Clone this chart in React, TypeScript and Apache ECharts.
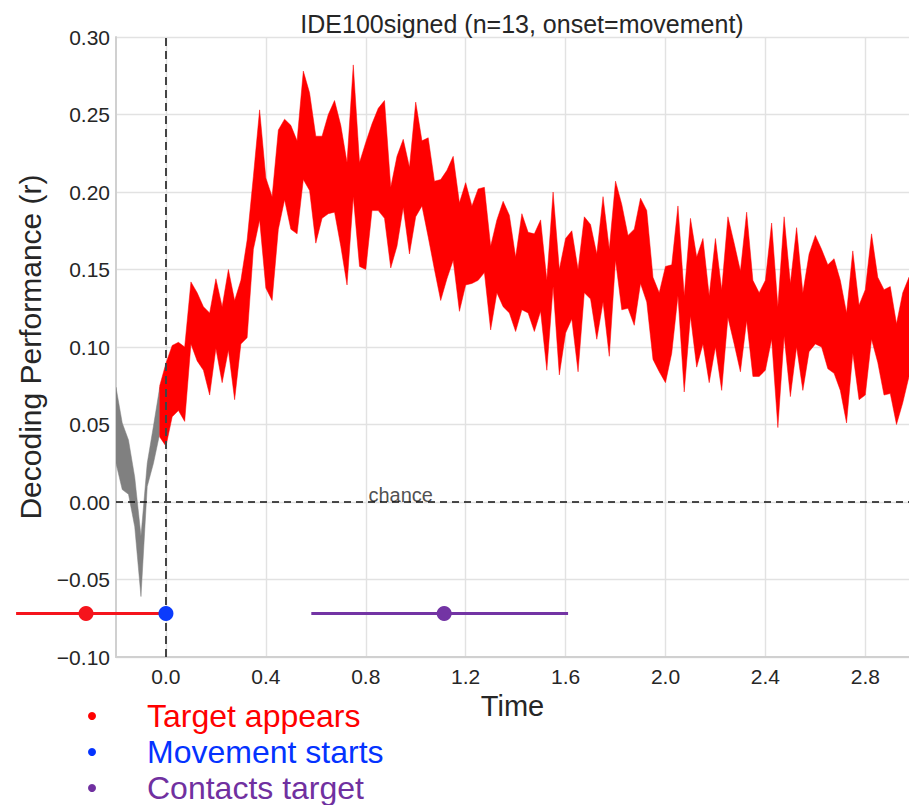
import React, { useEffect, useRef } from "react";
import * as echarts from "echarts";

// Sampling grid of the decoding time course (seconds relative to movement onset)
const SAMPLE_STEP = 0.025;
const GREY_START = -0.2;
const RED_START = -0.025;

// Confidence band before the effect becomes significant
const greyUpper = [0.074, 0.051, 0.04, 0.016, -0.022, 0.025, 0.049, 0.074];
const greyLower = [0.025, 0.008, 0.005, -0.016, -0.061, 0.01, 0.025, 0.044];

// Confidence band while decoding is significant
const redUpper = [
  0.075, 0.0895, 0.101, 0.103, 0.1, 0.142, 0.135, 0.126, 0.122, 0.144,
  0.126, 0.15, 0.13, 0.143, 0.169, 0.21, 0.253, 0.209, 0.197, 0.24,
  0.247, 0.243, 0.233, 0.278, 0.264, 0.236, 0.236, 0.25, 0.259, 0.243,
  0.219, 0.282, 0.219, 0.232, 0.244, 0.254, 0.259, 0.203, 0.223, 0.234,
  0.216, 0.258, 0.233, 0.235, 0.207, 0.208, 0.214, 0.223, 0.193, 0.206,
  0.191, 0.202, 0.203, 0.165, 0.182, 0.194, 0.185, 0.158, 0.186, 0.174,
  0.173, 0.182, 0.143, 0.2, 0.15, 0.17, 0.175, 0.15, 0.184, 0.179,
  0.16, 0.197, 0.163, 0.207, 0.192, 0.172, 0.176, 0.196, 0.188, 0.145,
  0.135, 0.152, 0.153, 0.191, 0.133, 0.183, 0.158, 0.17, 0.133, 0.17,
  0.137, 0.184, 0.167, 0.149, 0.187, 0.143, 0.135, 0.143, 0.18, 0.126,
  0.184, 0.141, 0.177, 0.135, 0.16, 0.172, 0.163, 0.153, 0.157, 0.143,
  0.122, 0.162, 0.127, 0.137, 0.173, 0.145, 0.137, 0.139, 0.115, 0.135,
  0.145,
];
const redLower = [
  0.042, 0.036, 0.055, 0.059, 0.052, 0.102, 0.091, 0.085, 0.069, 0.099,
  0.077, 0.098, 0.066, 0.102, 0.106, 0.163, 0.182, 0.138, 0.13, 0.176,
  0.195, 0.176, 0.173, 0.208, 0.201, 0.167, 0.183, 0.186, 0.187, 0.165,
  0.14, 0.197, 0.152, 0.15, 0.188, 0.188, 0.183, 0.151, 0.165, 0.19,
  0.16, 0.184, 0.191, 0.171, 0.15, 0.13, 0.144, 0.156, 0.123, 0.14,
  0.141, 0.143, 0.148, 0.111, 0.135, 0.126, 0.122, 0.11, 0.124, 0.122,
  0.11, 0.123, 0.085, 0.139, 0.082, 0.109, 0.118, 0.084, 0.135, 0.131,
  0.105, 0.129, 0.094, 0.156, 0.124, 0.125, 0.114, 0.141, 0.129, 0.092,
  0.084, 0.077, 0.096, 0.133, 0.071, 0.12, 0.087, 0.102, 0.077, 0.1,
  0.072, 0.119, 0.102, 0.084, 0.117, 0.081, 0.081, 0.085, 0.105, 0.048,
  0.107, 0.068, 0.1, 0.072, 0.097, 0.102, 0.1, 0.086, 0.083, 0.072,
  0.051, 0.096, 0.066, 0.069, 0.105, 0.09, 0.069, 0.07, 0.05, 0.064,
  0.081,
];

// Behavioural events (mean time and spread) shown as a timeline below the curve
const eventLevel = -0.072;
const targetRange = [-0.6, 0.0];
const targetMean = -0.32;
const movementMean = 0.0;
const contactRange = [0.582, 1.61];
const contactMean = 1.114;

const xTicks = [0, 0.4, 0.8, 1.2, 1.6, 2.0, 2.4, 2.8];
const legendItems = [
  { label: "Target appears", color: "#ff0000" },
  { label: "Movement starts", color: "#0433ff" },
  { label: "Contacts target", color: "#7030a0" },
];

const RED = "#ff0000";
const GREY = "#808080";
const TARGET_COLOR = "#f5141c";
const MOVE_COLOR = "#0b3bfc";
const CONTACT_COLOR = "#7334a4";
const FONT = "'Liberation Sans', Arial, Helvetica, sans-serif";

const timesFor = (start: number, n: number) =>
  Array.from({ length: n }, (_, i) => Math.round((start + i * SAMPLE_STEP) * 1000) / 1000);

function bandSeries(times: number[], upper: number[], lower: number[], color: string, z: number) {
  return {
    type: "custom",
    z,
    silent: true,
    clip: true,
    data: times.map((t, i) => [t, upper[i], lower[i]]),
    encode: { x: 0, y: [1, 2] },
    renderItem: (params: any, api: any) => {
      if (params.dataIndex !== 0) return null;
      const pts: number[][] = [];
      for (let i = 0; i < times.length; i++) pts.push(api.coord([times[i], upper[i]]));
      for (let i = times.length - 1; i >= 0; i--) pts.push(api.coord([times[i], lower[i]]));
      return {
        type: "polygon",
        shape: { points: pts },
        style: { fill: color, stroke: color, lineWidth: 0.5 },
      };
    },
  };
}

// Horizontal spread of an event time, allowed to extend past the plot edge
function rangeSeries(range: number[], color: string) {
  return {
    type: "custom",
    z: 8,
    silent: true,
    clip: false,
    data: [[range[0], eventLevel, range[1]]],
    encode: { x: [0, 2], y: 1 },
    renderItem: (_params: any, api: any) => {
      const a = api.coord([api.value(0), api.value(1)]);
      const b = api.coord([api.value(2), api.value(1)]);
      return {
        type: "line",
        shape: { x1: a[0], y1: a[1], x2: b[0], y2: b[1] },
        style: { stroke: color, lineWidth: 3 },
      };
    },
  };
}

export default function App() {
  const ref = useRef<HTMLDivElement>(null);

  useEffect(() => {
    if (!ref.current) return;
    const chart = echarts.init(ref.current, null, { renderer: "svg" });

    const greyTimes = timesFor(GREY_START, greyUpper.length);
    const redTimes = timesFor(RED_START, redUpper.length);

    const legendGraphics: any[] = [];
    legendItems.forEach((item, i) => {
      const cy = 716 + i * 36;
      legendGraphics.push({
        type: "circle",
        shape: { cx: 92, cy, r: 4 },
        style: { fill: item.color },
      });
      legendGraphics.push({
        type: "text",
        x: 147,
        y: cy,
        style: {
          text: item.label,
          fill: item.color,
          font: `32px ${FONT}`,
          textVerticalAlign: "middle",
        },
      });
    });

    chart.setOption({
      animation: false,
      backgroundColor: "#ffffff",
      title: {
        text: "IDE100signed (n=13, onset=movement)",
        left: 517,
        top: 6,
        textAlign: "center",
        textStyle: { fontFamily: FONT, fontSize: 25, fontWeight: "normal", color: "#262626" },
      },
      grid: { left: 116, top: 37, width: 793, height: 620 },
      xAxis: {
        type: "value",
        min: GREY_START,
        max: 2.975,
        name: "Time",
        nameLocation: "middle",
        nameGap: 33,
        nameTextStyle: { fontFamily: FONT, fontSize: 29, color: "#262626", verticalAlign: "top" },
        axisLine: { show: true, onZero: false, lineStyle: { color: "#d0d0d0", width: 2 } },
        axisTick: { show: false, customValues: xTicks },
        axisLabel: {
          customValues: xTicks,
          formatter: (v: number) => v.toFixed(1),
          fontFamily: FONT,
          fontSize: 21,
          color: "#262626",
          margin: 9,
        },
        splitLine: { show: true, lineStyle: { color: "#e2e2e2", width: 1.4 } },
      },
      yAxis: {
        type: "value",
        min: -0.1,
        max: 0.3,
        interval: 0.05,
        name: "Decoding Performance (r)",
        nameLocation: "middle",
        nameGap: 68,
        nameTextStyle: { fontFamily: FONT, fontSize: 30, color: "#262626" },
        axisLine: { show: true, onZero: false, lineStyle: { color: "#d0d0d0", width: 2 } },
        axisTick: { show: false },
        axisLabel: {
          formatter: (v: number) => v.toFixed(2).replace("-", "\u2212"),
          fontFamily: FONT,
          fontSize: 21,
          color: "#262626",
          margin: 6,
        },
        splitLine: { show: true, lineStyle: { color: "#e2e2e2", width: 1.4 } },
      },
      graphic: legendGraphics,
      series: [
        bandSeries(greyTimes, greyUpper, greyLower, GREY, 2),
        bandSeries(redTimes, redUpper, redLower, RED, 2),
        {
          type: "scatter",
          z: 4,
          silent: true,
          symbolSize: 0,
          data: [[0.94, 0]],
          label: {
            show: true,
            position: "top",
            distance: -3,
            formatter: "chance",
            fontFamily: FONT,
            fontSize: 20,
            color: "#222222",
          },
          markLine: {
            silent: true,
            symbol: ["none", "none"],
            label: { show: false },
            data: [
              { xAxis: 0, lineStyle: { color: "#444444", width: 2, type: [8, 5] } },
              { yAxis: 0, lineStyle: { color: "#111111", width: 1.5, type: [7, 5] } },
            ],
          },
        },
        rangeSeries(targetRange, TARGET_COLOR),
        rangeSeries(contactRange, CONTACT_COLOR),
        {
          type: "scatter",
          z: 9,
          silent: true,
          clip: false,
          symbolSize: 15,
          itemStyle: { opacity: 1 },
          data: [
            { value: [targetMean, eventLevel], itemStyle: { color: TARGET_COLOR, opacity: 1 } },
            { value: [movementMean, eventLevel], itemStyle: { color: MOVE_COLOR, opacity: 1 } },
            { value: [contactMean, eventLevel], itemStyle: { color: CONTACT_COLOR, opacity: 1 } },
          ],
        },
      ],
    });

    return () => chart.dispose();
  }, []);

  return (
    <div
      ref={ref}
      style={{ position: "absolute", left: 0, top: 0, width: 909, height: 805 }}
    />
  );
}
